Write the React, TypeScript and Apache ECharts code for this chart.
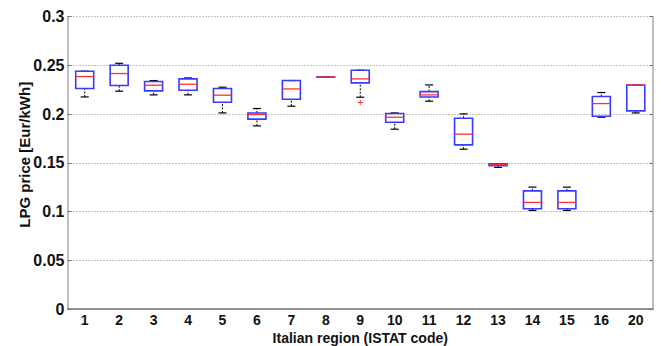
import React, { useEffect, useRef } from "react";
import * as echarts from "echarts";

const categories = ["1", "2", "3", "4", "5", "6", "7", "8", "9", "10", "11", "12", "13", "14", "15", "16", "20"];
const lowerWhisker = [0.2175, 0.2234, 0.2196, 0.2196, 0.2011, 0.1878, 0.208, 0.2378, 0.2172, 0.1844, 0.2131, 0.1639, 0.1452, 0.1011, 0.1011, 0.1967, 0.2011];
const q1 = [0.2261, 0.2292, 0.2237, 0.2244, 0.2121, 0.1947, 0.2152, 0.238, 0.2319, 0.1916, 0.2175, 0.1683, 0.147, 0.1028, 0.1028, 0.1977, 0.2032];
const median = [0.2384, 0.2415, 0.2295, 0.2305, 0.2193, 0.1995, 0.2257, 0.238, 0.236, 0.1967, 0.2196, 0.1793, 0.148, 0.1093, 0.1093, 0.2107, 0.2298];
const q3 = [0.2439, 0.25, 0.2333, 0.236, 0.2261, 0.2011, 0.2343, 0.238, 0.2449, 0.2005, 0.223, 0.1957, 0.1489, 0.1212, 0.1212, 0.2179, 0.2298];
const upperWhisker = [0.2439, 0.252, 0.2343, 0.237, 0.2275, 0.2056, 0.2343, 0.2382, 0.2449, 0.2011, 0.2298, 0.2001, 0.1489, 0.125, 0.125, 0.222, 0.2298];
const outlierCategory = ["9"];
const outlierValue = [0.2118];
const yTicks = { min: 0, max: 0.3, interval: 0.05 };

const FONT = "'Liberation Sans', Arial, sans-serif";

export default function App() {
  const ref = useRef<HTMLDivElement>(null);
  useEffect(() => {
    if (!ref.current) return;
    const chart = echarts.init(ref.current, null, { renderer: "svg" });
    const boxData = categories.map((_, i) => [i, lowerWhisker[i], q1[i], median[i], q3[i], upperWhisker[i]]);
    const outData = outlierCategory.map((c, k) => [categories.indexOf(c), outlierValue[k]]);
    const axisGray = "#a8a8a8";
    chart.setOption({
      animation: false,
      grid: { left: 67.5, right: 8, top: 16.5, bottom: 37, containLabel: false, outerBoundsMode: "none" },
      xAxis: [
        {
          type: "category",
          data: categories,
          boundaryGap: true,
          position: "bottom",
          axisLine: { lineStyle: { color: axisGray, width: 1.5 } },
          axisTick: { inside: true, alignWithLabel: true, length: 4, lineStyle: { color: "#777" } },
          axisLabel: { color: "#111", fontFamily: FONT, fontWeight: "bold", fontSize: 14, margin: 4, lineHeight: 14 },
          name: "Italian region (ISTAT code)",
          nameLocation: "middle",
          nameGap: 22,
          nameMoveOverlap: false,
          nameTextStyle: { color: "#111", fontFamily: FONT, fontWeight: "bold", fontSize: 14, lineHeight: 14 },
          splitLine: { show: false },
        },
        {
          type: "category",
          data: categories,
          boundaryGap: true,
          position: "top",
          axisLine: { lineStyle: { color: "#888", width: 1.5 } },
          axisTick: { inside: true, alignWithLabel: true, length: 4, lineStyle: { color: "#777" } },
          axisLabel: { show: false },
          splitLine: { show: false },
        },
      ],
      yAxis: [
        {
          type: "value",
          min: yTicks.min,
          max: yTicks.max,
          interval: yTicks.interval,
          position: "left",
          axisLine: { show: true, lineStyle: { color: axisGray, width: 1.5 } },
          axisTick: { show: true, inside: true, length: 4, lineStyle: { color: "#777" } },
          axisLabel: { color: "#111", fontFamily: FONT, fontWeight: "bold", fontSize: 16, margin: 3 },
          splitLine: { show: true, lineStyle: { color: "#888", type: [1, 2], width: 1 } },
          name: "LPG price [Eur/kWh]",
          nameLocation: "middle",
          nameGap: 36,
          nameMoveOverlap: false,
          nameTextStyle: { color: "#111", fontFamily: FONT, fontWeight: "bold", fontSize: 15, padding: [0, 0, 0, 16] },
        },
        {
          type: "value",
          min: yTicks.min,
          max: yTicks.max,
          interval: yTicks.interval,
          position: "right",
          axisLine: { show: true, lineStyle: { color: axisGray, width: 1.5 } },
          axisTick: { show: true, inside: true, length: 4, lineStyle: { color: "#777" } },
          axisLabel: { show: false },
          splitLine: { show: false },
        },
      ],
      series: [
        {
          type: "custom",
          xAxisIndex: 0,
          yAxisIndex: 0,
          data: boxData,
          encode: { x: 0, y: [1, 2, 3, 4, 5] },
          renderItem: (params: any, api: any) => {
            const i = api.value(0);
            const pLo = api.coord([i, api.value(1)]);
            const pQ1 = api.coord([i, api.value(2)]);
            const pMed = api.coord([i, api.value(3)]);
            const pQ3 = api.coord([i, api.value(4)]);
            const pHi = api.coord([i, api.value(5)]);
            const x = pLo[0];
            const hb = 9;
            const hc = 4;
            const dash = { stroke: "#000", lineWidth: 1, lineDash: [2, 1.5] };
            return {
              type: "group",
              children: [
                { type: "line", shape: { x1: x, y1: pLo[1], x2: x, y2: pQ1[1] }, style: dash },
                { type: "line", shape: { x1: x, y1: pQ3[1], x2: x, y2: pHi[1] }, style: dash },
                { type: "line", shape: { x1: x - hc, y1: pLo[1], x2: x + hc, y2: pLo[1] }, style: { stroke: "#000", lineWidth: 1.2 } },
                { type: "line", shape: { x1: x - hc, y1: pHi[1], x2: x + hc, y2: pHi[1] }, style: { stroke: "#000", lineWidth: 1.2 } },
                {
                  type: "rect",
                  shape: { x: x - hb, y: pQ3[1], width: hb * 2, height: Math.max(pQ1[1] - pQ3[1], 0.1) },
                  style: { fill: "none", stroke: "#3a3aff", lineWidth: 1.6 },
                },
                { type: "line", shape: { x1: x - hb, y1: pMed[1], x2: x + hb, y2: pMed[1] }, style: { stroke: "#ff3030", lineWidth: 1.3 } },
              ],
            };
          },
          z: 3,
        },
        {
          type: "custom",
          xAxisIndex: 0,
          yAxisIndex: 0,
          data: outData,
          encode: { x: 0, y: 1 },
          renderItem: (params: any, api: any) => {
            const p = api.coord([api.value(0), api.value(1)]);
            const s = 2.5;
            const st = { stroke: "#ff3030", lineWidth: 1 };
            return {
              type: "group",
              children: [
                { type: "line", shape: { x1: p[0] - s, y1: p[1], x2: p[0] + s, y2: p[1] }, style: st },
                { type: "line", shape: { x1: p[0], y1: p[1] - s, x2: p[0], y2: p[1] + s }, style: st },
              ],
            };
          },
          z: 3,
        },
      ],
    });
    return () => chart.dispose();
  }, []);
  return <div ref={ref} style={{ position: "fixed", left: 0, top: 0, width: 661, height: 346, background: "#fff" }} />;
}
